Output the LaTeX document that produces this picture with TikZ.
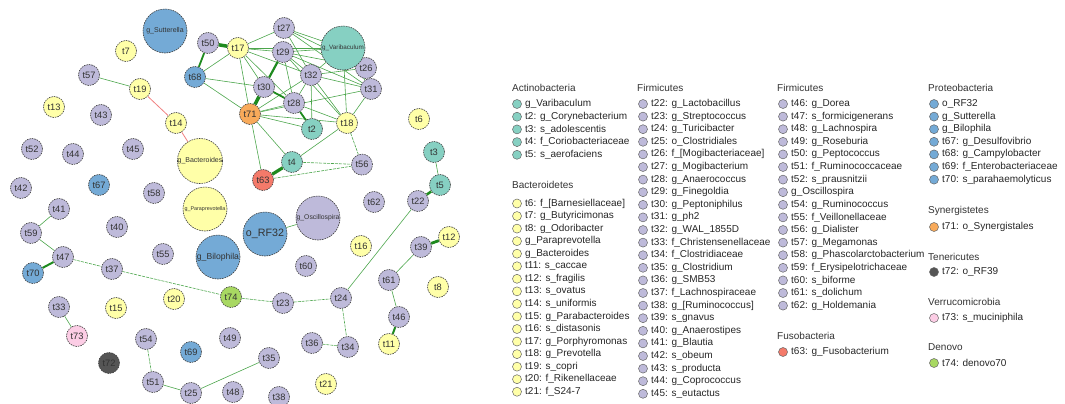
\documentclass[tikz,border=0pt]{standalone}
\usepackage{fontspec}
\setmainfont{Liberation Sans}
\usetikzlibrary{backgrounds}
\definecolor{cact}{HTML}{86D0C2}
\definecolor{cbac}{HTML}{FFFFA8}
\definecolor{cfir}{HTML}{BEBADA}
\definecolor{cfus}{HTML}{F47A6A}
\definecolor{cpro}{HTML}{74AAD6}
\definecolor{csyn}{HTML}{F8AA5A}
\definecolor{cten}{HTML}{555555}
\definecolor{cver}{HTML}{FCCDE5}
\definecolor{cden}{HTML}{A8D862}
\definecolor{cedge}{HTML}{4CA64C}
\definecolor{cthick}{HTML}{1E8A1E}
\definecolor{cneg}{HTML}{F08080}
\definecolor{ctxt}{HTML}{333333}
\tikzset{
  nd/.style={circle, draw=black!75, line width=0.6pt, dash pattern=on 1.6pt off 0.9pt,
    minimum size=21pt, inner sep=0pt, text=ctxt, font=\fontsize{9.3}{10}\selectfont},
  big/.style={nd, minimum size=44pt},
  act/.style={nd, fill=cact}, bac/.style={nd, fill=cbac}, fir/.style={nd, fill=cfir},
  fus/.style={nd, fill=cfus}, pro/.style={nd, fill=cpro}, syn/.style={nd, fill=csyn},
  ten/.style={nd, fill=cten}, ver/.style={nd, fill=cver}, den/.style={nd, fill=cden},
  ed/.style={draw=cedge, line width=0.6pt},
  edd/.style={ed, dash pattern=on 3pt off 1pt},
  th/.style={draw=cthick, line width=#1},
  neg/.style={draw=cneg, line width=0.8pt},
  legdot/.style={circle, draw=black!60, line width=0.5pt, minimum size=9pt, inner sep=0pt},
  legtxt/.style={anchor=west, inner sep=0pt, text=black!85, font=\fontsize{10}{12}\selectfont},
  leghead/.style={anchor=west, inner sep=0pt, text=black!80, font=\fontsize{10}{12}\selectfont}
}
\begin{document}
\begin{tikzpicture}[x=1pt,y=-1pt]
\useasboundingbox (0,0) rectangle (1065,404);
% ---------- network nodes ----------
% Bacteroidetes
\node[bac] (t7) at (126,51) {t7};
\node[bac] (t19) at (140,89) {t19};
\node[bac] (t13) at (54,107) {t13};
\node[bac] (t14) at (176,123) {t14};
\node[bac,big,font=\fontsize{7}{8}\selectfont] (gBact) at (200,161) {g\_Bacteroides};
\node[bac,big,font=\fontsize{5.4}{6}\selectfont] (gPara) at (205,209) {g\_Paraprevotella};
\node[bac] (t6) at (419,119) {t6};
\node[bac] (t16) at (361,246) {t16};
\node[bac] (t12) at (449,237) {t12};
\node[bac] (t8) at (438,287) {t8};
\node[bac] (t11) at (389,344) {t11};
\node[bac] (t15) at (116,308) {t15};
\node[bac] (t20) at (174,299) {t20};
\node[bac] (t21) at (326,384) {t21};
\node[bac] (t17) at (238,48) {t17};
\node[bac] (t18) at (347,123) {t18};
% Firmicutes
\node[fir] (t57) at (89,75) {t57};
\node[fir] (t43) at (101,115) {t43};
\node[fir] (t52) at (32,149) {t52};
\node[fir] (t44) at (73,154) {t44};
\node[fir] (t45) at (133,149) {t45};
\node[fir] (t42) at (21,188) {t42};
\node[fir] (t58) at (154,193) {t58};
\node[fir] (t50) at (208,43) {t50};
\node[fir] (t27) at (284,28) {t27};
\node[fir] (t29) at (283,52) {t29};
\node[fir] (t26) at (366,68) {t26};
\node[fir] (t32) at (311,75) {t32};
\node[fir] (t31) at (371,89) {t31};
\node[fir] (t30) at (264,87) {t30};
\node[fir] (t28) at (294,103) {t28};
\node[fir] (t56) at (362,164.6) {t56};
\node[fir] (t62) at (374,202) {t62};
\node[fir] (t22) at (418,201) {t22};
\node[fir] (t39) at (421,247) {t39};
\node[fir,big,font=\fontsize{6.8}{8}\selectfont] (gOsc) at (318,218) {g\_Oscillospira};
\node[fir] (t60) at (306,266) {t60};
\node[fir] (t61) at (389,280) {t61};
\node[fir] (t46) at (399,317) {t46};
\node[fir] (t24) at (341,298) {t24};
\node[fir] (t23) at (283,303) {t23};
\node[fir] (t34) at (348,347) {t34};
\node[fir] (t36) at (312,343) {t36};
\node[fir] (t35) at (269,358) {t35};
\node[fir] (t48) at (233,392) {t48};
\node[fir] (t38) at (279,397) {t38};
\node[fir] (t49) at (230,338) {t49};
\node[fir] (t41) at (59,209) {t41};
\node[fir] (t40) at (117,227) {t40};
\node[fir] (t59) at (31,233) {t59};
\node[fir] (t55) at (163,254) {t55};
\node[fir] (t47) at (63,257) {t47};
\node[fir] (t37) at (112,269) {t37};
\node[fir] (t33) at (59,307) {t33};
\node[fir] (t54) at (146,339) {t54};
\node[fir] (t51) at (153,382) {t51};
\node[fir] (t25) at (191,393) {t25};
% Actinobacteria
\node[act,big,font=\fontsize{6.3}{7}\selectfont] (gVar) at (343,48) {g\_Varibaculum};
\node[act] (t2) at (312,129) {t2};
\node[act] (t4) at (292,162) {t4};
\node[act] (t3) at (434,152) {t3};
\node[act] (t5) at (440,185) {t5};
% Proteobacteria
\node[pro,big,font=\fontsize{7}{8}\selectfont] (gSutt) at (165,31) {g\_Sutterella};
\node[pro,big,font=\fontsize{10.7}{12}\selectfont] (oRF) at (265,234) {o\_RF32};
\node[pro,big,font=\fontsize{8.6}{10}\selectfont] (gBilo) at (218,257) {g\_Bilophila};
\node[pro] (t67) at (99,185) {t67};
\node[pro] (t68) at (195,77) {t68};
\node[pro] (t69) at (191,352) {t69};
\node[pro] (t70) at (33,273) {t70};
% others
\node[syn] (t71) at (250,114) {t71};
\node[fus] (t63) at (263,180) {t63};
\node[ten] (t72) at (109,363) {t72};
\node[ver] (t73) at (77,336) {t73};
\node[den] (t74) at (231,297) {t74};
% ---------- edges ----------
\begin{scope}[on background layer]
\foreach \a/\b in {t68/t17, t68/t30, t68/t71, t17/t27, t17/t29, t17/gVar, t17/t30,
  t17/t32, t17/t71, t17/t28, t27/gVar, t27/t32, t27/t31, t27/t26, t29/gVar, t29/t32,
  t29/t31, t29/t26, t29/t28, t29/t18, t28/t32, t28/t18, t28/t71, t32/gVar, t32/t31,
  t32/t2, t32/t18, t32/t71, t32/t26, t71/t18, t71/t2, t71/t31, gVar/t31, gVar/t18,
  t31/t18, t71/t4, t71/t63, t4/t18, t57/t19, t41/t59, t59/t47,
  t24/t22, t33/t73, t25/t35, t39/t61, t61/t46, t3/t5, oRF/gOsc, t51/t25}
  \draw[ed] (\a) -- (\b);
\foreach \a/\b in {t47/t37, t37/t74, t74/t23, t23/t24, t24/t34, t34/t36, t54/t51, t18/t56,
  t4/t56, t63/t56}
  \draw[edd] (\a) -- (\b);
\draw[th=3.5pt] (t50) -- (t17);
\draw[th=1.8pt] (t50) -- (t68);
\draw[th=2.2pt] (t29) -- (t30);
\draw[th=3.5pt] (t30) -- (t71);
\draw[th=1.8pt] (t30) -- (t28);
\draw[th=1.8pt] (t28) -- (t2);
\draw[th=3.2pt] (t4) -- (t63);
\draw[th=2pt] (t47) -- (t70);
\draw[th=2.5pt] (t5) -- (t22);
\draw[th=2.8pt] (t39) -- (t12);
\draw[th=2pt] (t46) -- (t11);
\draw[neg] (t19) -- (t14);
\draw[neg] (t14) -- (gBact);
\end{scope}
% ---------- legend ----------
\node[leghead] (h1) at (512,88) {Actinobacteria};
\foreach \t [count=\i] in {{g\_Varibaculum},{t2: g\_Corynebacterium},{t3: s\_adolescentis},
  {t4: f\_Coriobacteriaceae},{t5: s\_aerofaciens}}{
  \node[legdot,fill=cact] (da\i) at (517,{104+(\i-1)*12.7}) {};
  \node[legtxt] (la\i) at (525,{104+(\i-1)*12.7}) {\t};
}
\node[leghead] (h2) at (512,185) {Bacteroidetes};
\foreach \t [count=\i] in {{t6: f\_[Barnesiellaceae]},{t7: g\_Butyricimonas},{t8: g\_Odoribacter},
  {g\_Paraprevotella},{g\_Bacteroides},{t11: s\_caccae},{t12: s\_fragilis},{t13: s\_ovatus},
  {t14: s\_uniformis},{t15: g\_Parabacteroides},{t16: s\_distasonis},{t17: g\_Porphyromonas},
  {t18: g\_Prevotella},{t19: s\_copri},{t20: f\_Rikenellaceae},{t21: f\_S24-7}}{
  \node[legdot,fill=cbac] (db\i) at (517,{203.5+(\i-1)*12.55}) {};
  \node[legtxt] (lb\i) at (525,{203.5+(\i-1)*12.55}) {\t};
}
\node[leghead] (h3) at (637,88) {Firmicutes};
\foreach \t [count=\i] in {{t22: g\_Lactobacillus},{t23: g\_Streptococcus},{t24: g\_Turicibacter},
  {t25: o\_Clostridiales},{t26: f\_[Mogibacteriaceae]},{t27: g\_Mogibacterium},
  {t28: g\_Anaerococcus},{t29: g\_Finegoldia},{t30: g\_Peptoniphilus},{t31: g\_ph2},
  {t32: g\_WAL\_1855D},{t33: f\_Christensenellaceae},{t34: f\_Clostridiaceae},
  {t35: g\_Clostridium},{t36: g\_SMB53},{t37: f\_Lachnospiraceae},{t38: g\_[Ruminococcus]},
  {t39: s\_gnavus},{t40: g\_Anaerostipes},{t41: g\_Blautia},{t42: s\_obeum},
  {t43: s\_producta},{t44: g\_Coprococcus},{t45: s\_eutactus}}{
  \node[legdot,fill=cfir] (dc\i) at (643,{104+(\i-1)*12.6}) {};
  \node[legtxt] (lc\i) at (651,{104+(\i-1)*12.6}) {\t};
}
\node[leghead] (h4) at (777,88) {Firmicutes};
\foreach \t [count=\i] in {{t46: g\_Dorea},{t47: s\_formicigenerans},{t48: g\_Lachnospira},
  {t49: g\_Roseburia},{t50: g\_Peptococcus},{t51: f\_Ruminococcaceae},{t52: s\_prausnitzii},
  {g\_Oscillospira},{t54: g\_Ruminococcus},{t55: f\_Veillonellaceae},{t56: g\_Dialister},
  {t57: g\_Megamonas},{t58: g\_Phascolarctobacterium},{t59: f\_Erysipelotrichaceae},
  {t60: s\_biforme},{t61: s\_dolichum},{t62: g\_Holdemania}}{
  \node[legdot,fill=cfir] (dd\i) at (783,{104+(\i-1)*12.6}) {};
  \node[legtxt] (ld\i) at (791,{104+(\i-1)*12.6}) {\t};
}
\node[leghead] (h5) at (777,336) {Fusobacteria};
\node[legdot,fill=cfus] (de1) at (783,352) {};
\node[legtxt] (le1) at (791,352) {t63: g\_Fusobacterium};
\node[leghead] (h6) at (928,88) {Proteobacteria};
\foreach \t [count=\i] in {{o\_RF32},{g\_Sutterella},{g\_Bilophila},{t67: g\_Desulfovibrio},
  {t68: g\_Campylobacter},{t69: f\_Enterobacteriaceae},{t70: s\_parahaemolyticus}}{
  \node[legdot,fill=cpro] (df\i) at (934,{104+(\i-1)*12.6}) {};
  \node[legtxt] (lf\i) at (942,{104+(\i-1)*12.6}) {\t};
}
\node[leghead] (h7) at (928,211) {Synergistetes};
\node[legdot,fill=csyn] (dg1) at (934,227) {};
\node[legtxt] (lg1) at (942,227) {t71: o\_Synergistales};
\node[leghead] (h8) at (928,257) {Tenericutes};
\node[legdot,fill=cten] (dh1) at (934,272) {};
\node[legtxt] (lh1) at (942,272) {t72: o\_RF39};
\node[leghead] (h9) at (928,302) {Verrucomicrobia};
\node[legdot,fill=cver] (di1) at (934,318) {};
\node[legtxt] (li1) at (942,318) {t73: s\_muciniphila};
\node[leghead] (h10) at (928,347) {Denovo};
\node[legdot,fill=cden] (dj1) at (934,363) {};
\node[legtxt] (lj1) at (942,363) {t74: denovo70};
\end{tikzpicture}
\end{document}
